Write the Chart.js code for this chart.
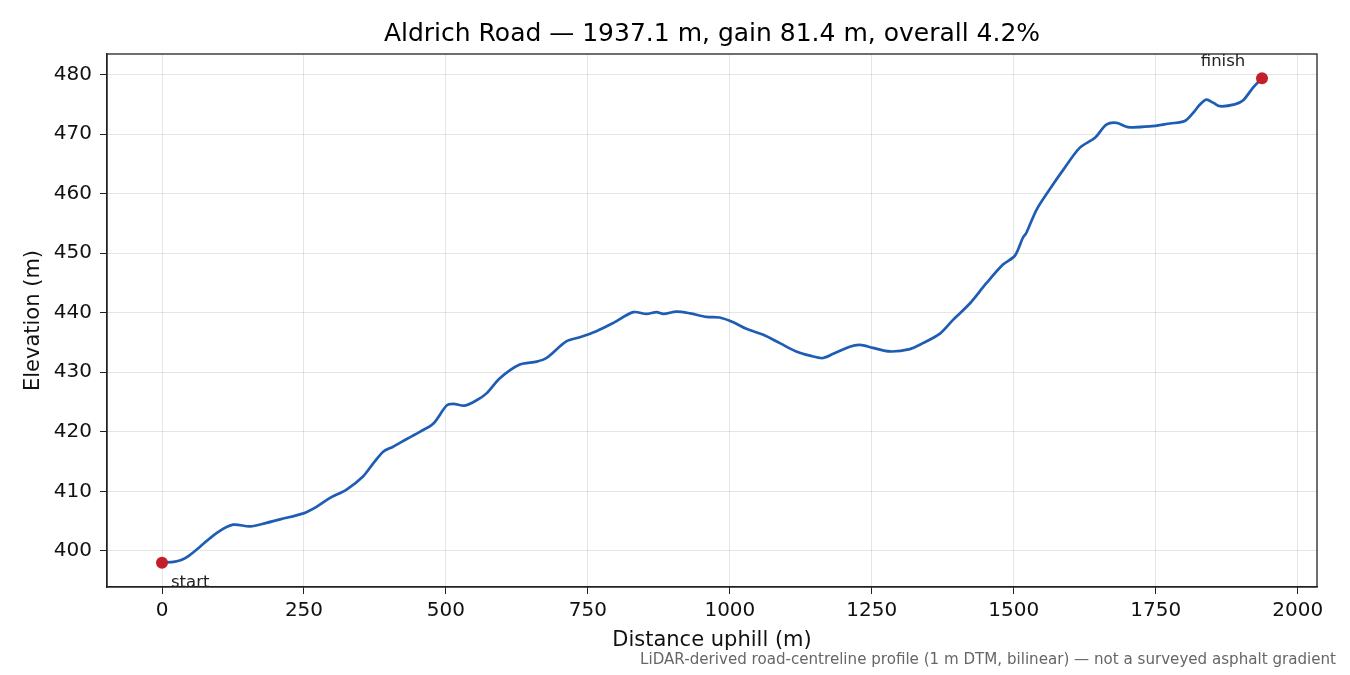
<!DOCTYPE html>
<html lang="en">
<head>
<meta charset="UTF-8">
<title>Aldrich Road profile</title>
<script src="https://cdn.jsdelivr.net/npm/chart.js"></script>
<style>
  html, body { margin: 0; padding: 0; background: #fff; }
  #perfil { display: block; }
</style>
</head>
<body>
<canvas id="perfil" width="1350" height="675"></canvas>

<script>
    // distance along the road (m) and elevation (m)
    var distancia = [0, 23, 35, 49, 67, 96, 125, 155, 184, 208, 249, 272, 296, 325, 354, 372, 390, 407, 431, 454,
        478, 501, 513, 533, 554, 572, 595, 630, 660, 677, 712, 736, 765, 795, 830, 853, 871, 883, 906, 930,
        959, 982, 1006, 1029, 1059, 1088, 1117, 1141, 1164, 1182, 1211, 1229, 1252, 1282, 1317, 1340, 1370, 1393, 1423, 1452,
        1481, 1502, 1516, 1522, 1540, 1563, 1587, 1616, 1643, 1663, 1681, 1701, 1739, 1775, 1801, 1816, 1827, 1839, 1851, 1863,
        1889, 1904, 1921, 1937.1];
    var elevacao = [398.0, 398.2, 398.5, 399.3, 400.7, 403.0, 404.4, 404.1, 404.7, 405.3, 406.3, 407.4, 408.9, 410.3, 412.5, 414.7, 416.7, 417.5, 418.8, 420.0,
        421.4, 424.4, 424.7, 424.4, 425.3, 426.5, 429.0, 431.3, 431.8, 432.4, 435.2, 435.9, 436.9, 438.3, 440.1, 439.8, 440.1, 439.8, 440.2, 439.9,
        439.3, 439.2, 438.4, 437.3, 436.3, 434.9, 433.5, 432.8, 432.4, 433.1, 434.3, 434.6, 434.1, 433.5, 433.9, 434.9, 436.5, 438.8, 441.6, 445.0,
        448.1, 449.6, 452.6, 453.4, 457.3, 460.7, 464.0, 467.7, 469.4, 471.6, 471.9, 471.2, 471.3, 471.8, 472.2, 473.6, 474.9, 475.8, 475.3, 474.7,
        475.0, 475.7, 477.8, 479.4];

    var ticksX = [0, 250, 500, 750, 1000, 1250, 1500, 1750, 2000];
    var ticksY = [400, 410, 420, 430, 440, 450, 460, 470, 480];

    var titulo = 'Aldrich Road — 1937.1 m, gain 81.4 m, overall 4.2%';
    var nota = 'LiDAR-derived road-centreline profile (1 m DTM, bilinear) — not a surveyed asphalt gradient';

    var fonte = 'DejaVu Sans';

    var pontos = distancia.map(function (d, i) { return { x: d, y: elevacao[i] }; });
    var extremos = [pontos[0], pontos[pontos.length - 1]];

    // 5% margins like the original
    var dx = (distancia[distancia.length - 1] - distancia[0]) * 0.05;
    var eMin = Math.min.apply(null, elevacao), eMax = Math.max.apply(null, elevacao);
    var dy = (eMax - eMin) * 0.05;

    // texts, frame and the start/finish labels
    var textos = {
        id: 'textos',
        afterDraw: function (chart) {
            var ctx = chart.ctx;
            var a = chart.chartArea;
            var sx = chart.scales.x, sy = chart.scales.y;
            ctx.save();

            ctx.strokeStyle = '#222';
            ctx.lineWidth = 1.3;
            ctx.strokeRect(a.left, a.top, a.right - a.left, a.bottom - a.top);

            ctx.fillStyle = '#000';
            ctx.font = '25px "' + fonte + '"';
            ctx.textAlign = 'center';
            ctx.textBaseline = 'middle';
            ctx.fillText(titulo, (a.left + a.right) / 2, 34);

            ctx.font = '16.5px "' + fonte + '"';
            ctx.fillStyle = '#222';
            var p0 = extremos[0], p1 = extremos[1];
            ctx.textAlign = 'left';
            ctx.fillText('start', sx.getPixelForValue(p0.x) + 9, sy.getPixelForValue(p0.y) + 20);
            ctx.textAlign = 'center';
            ctx.fillText('finish', sx.getPixelForValue(p1.x) - 39, sy.getPixelForValue(p1.y) - 17);

            ctx.font = '15.1px "' + fonte + '"';
            ctx.fillStyle = '#666';
            ctx.textAlign = 'right';
            ctx.fillText(nota, 1336, 660);

            ctx.restore();
        }
    };

    function simples(v) { return String(v); }

    var ctx = document.getElementById('perfil').getContext('2d');
    var grafico = new Chart(ctx, {
        type: 'scatter',
        data: {
            datasets: [{
                label: 'Elevation',
                data: pontos,
                showLine: true,
                borderColor: '#1f5db5',
                borderWidth: 2.7,
                pointRadius: 0,
                tension: 0.3,
                order: 2
            }, {
                label: 'Ends',
                data: extremos,
                showLine: false,
                pointRadius: 6,
                pointBackgroundColor: '#c41e2a',
                pointBorderWidth: 0,
                order: 1
            }]
        },
        options: {
            responsive: false,
            animation: false,
            devicePixelRatio: 1,
            layout: { padding: { top: 54, right: 33, bottom: 18, left: 17 } },
            plugins: {
                legend: { display: false },
                tooltip: { enabled: false }
            },
            scales: {
                x: {
                    type: 'linear',
                    min: distancia[0] - dx,
                    max: distancia[distancia.length - 1] + dx,
                    afterBuildTicks: function (s) { s.ticks = ticksX.map(function (v) { return { value: v }; }); },
                    afterFit: function (s) { s.height = 70; },
                    grid: { color: 'rgba(0,0,0,0.1)', tickColor: '#222', tickLength: 7, lineWidth: 1 },
                    border: { color: '#222', width: 1.3 },
                    ticks: { color: '#111', font: { family: fonte, size: 20 }, padding: 5, maxRotation: 0, callback: simples },
                    title: { display: true, text: 'Distance uphill (m)', color: '#111', font: { family: fonte, size: 21 } }
                },
                y: {
                    min: eMin - dy,
                    max: eMax + dy,
                    afterBuildTicks: function (s) { s.ticks = ticksY.map(function (v) { return { value: v }; }); },
                    afterFit: function (s) { s.width = 90; },
                    grid: { color: 'rgba(0,0,0,0.1)', tickColor: '#222', tickLength: 7, lineWidth: 1 },
                    border: { color: '#222', width: 1.3 },
                    ticks: { color: '#111', font: { family: fonte, size: 20 }, padding: 8, callback: simples },
                    title: { display: true, text: 'Elevation (m)', color: '#111', font: { family: fonte, size: 21 } }
                }
            }
        },
        plugins: [textos]
    });
</script>
</body>
</html>
